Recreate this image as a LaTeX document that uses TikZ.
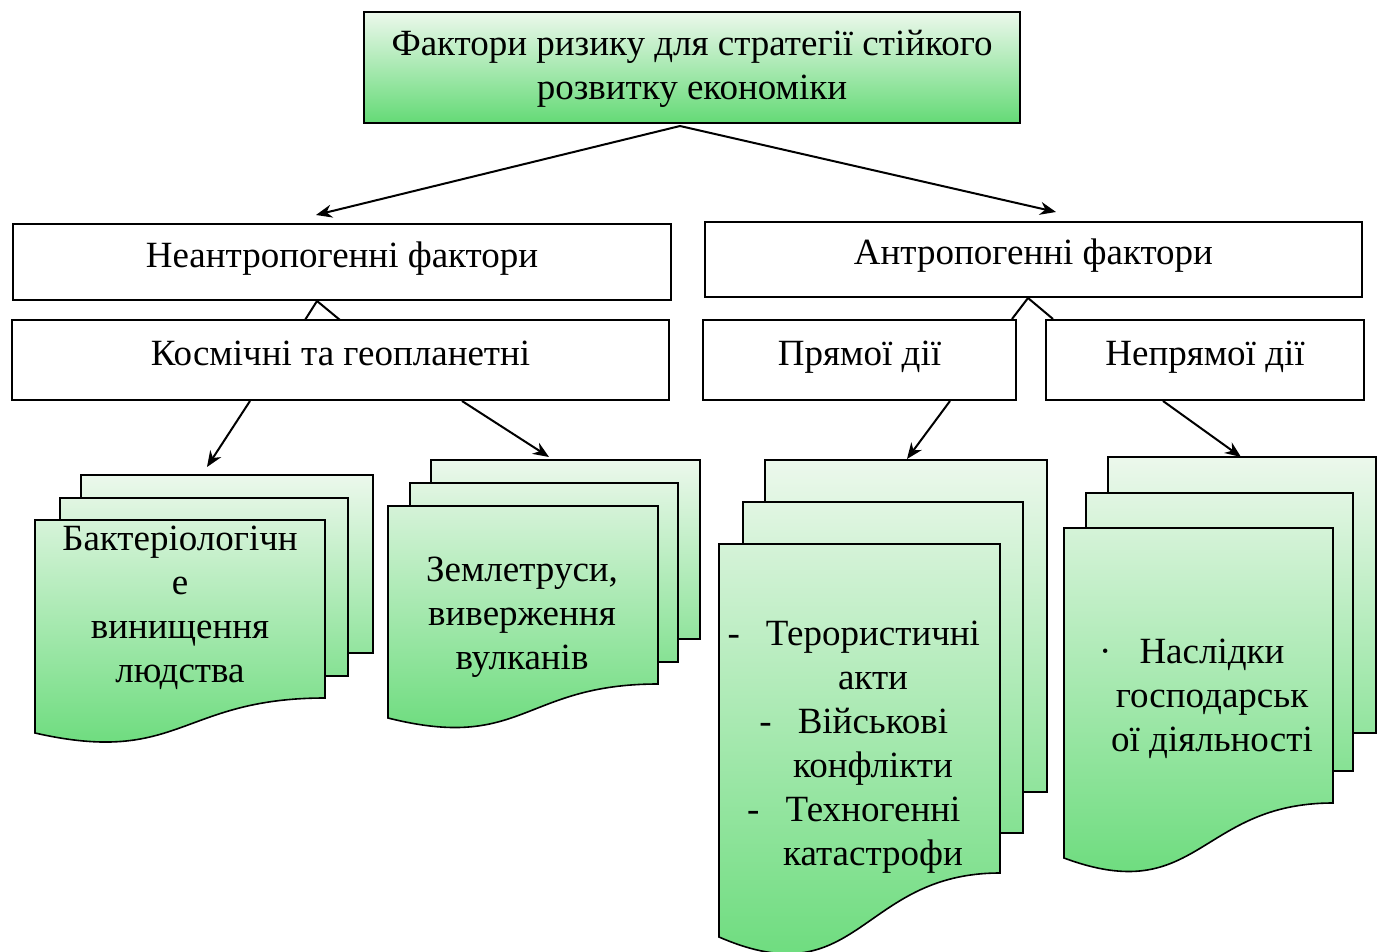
\documentclass[tikz,border=0pt]{standalone}
\usepackage{fontspec}
\setmainfont{Liberation Serif}
\usetikzlibrary{arrows.meta}
\definecolor{gtop}{RGB}{236,248,236}
\definecolor{gbot}{RGB}{100,218,118}

% one rectangular sheet of a stack, shaded as part of the whole stack
\newcommand\stacksheet[6]{%
  \pgfmathtruncatemacro\shA{(#2-#5)/(#6-#5)*100}%
  \pgfmathtruncatemacro\shB{(#4-#5)/(#6-#5)*100}%
  \shade[sheet, top color=gbot!\shA!gtop, bottom color=gbot!\shB!gtop] (#1,#2) rectangle (#3,#4);}
% front sheet with a wavy lower edge: x1, x2, top, right bottom, left bottom, control, stack top, stack bottom
\newcommand\frontsheet[8]{%
  \pgfmathtruncatemacro\shA{(#3-#7)/(#8-#7)*100}%
  \pgfmathsetmacro\shM{(#1+#2)/2}%
  \shade[sheet, top color=gbot!\shA!gtop, bottom color=gbot]
    (#1,#3) -- (#2,#3) -- (#2,#4) .. controls (\shM,#4) and (\shM,#6) .. (#1,#5) -- cycle;}

\begin{document}
\begin{tikzpicture}[x=1pt, y=-1pt,
  box/.style={draw=black, line width=1.8pt, fill=white, inner sep=0pt,
    font=\fontsize{37}{44}\selectfont, text height=26pt, text depth=16pt},
  sheet/.style={draw=black, line width=1.6pt},
  txt/.style={align=center, inner sep=0pt, font=\fontsize{37}{44}\selectfont},
  link/.style={line width=2pt, -{Stealth[length=16pt, width=13pt]}},
  tie/.style={line width=2pt}]
\useasboundingbox (0,0) rectangle (1383,952);

% title
\node[draw=black, line width=1.8pt, top color=gtop, bottom color=gbot, inner sep=0pt,
  minimum width=656pt, minimum height=111pt, align=center,
  font=\fontsize{37}{44}\selectfont] (title) at (692,67.5)
  {\rule{0pt}{28pt}Фактори ризику для стратегії стійкого\\розвитку економіки};

% second level
\node[box, minimum width=658pt, minimum height=76pt] (nonanthro) at (342,262) {Неантропогенні фактори};
\node[box, minimum width=657pt, minimum height=80pt] (cosmic) at (340.5,360) {Космічні та геопланетні};
\node[box, minimum width=657pt, minimum height=75pt] (anthro) at (1033.5,259.5) {Антропогенні фактори};
\node[box, minimum width=313pt, minimum height=80pt] (direct) at (859.5,360) {Прямої дії};
\node[box, minimum width=318pt, minimum height=80pt] (indirect) at (1205,360) {Непрямої дії};

% sheet stacks
\stacksheet{81}{475}{373}{653}{475}{742}
\stacksheet{60}{498}{348}{676}{475}{742}
\frontsheet{35}{325}{520}{698}{733}{766}{475}{742}

\stacksheet{431}{460}{700}{639}{460}{727}
\stacksheet{410}{483}{678}{662}{460}{727}
\frontsheet{388}{658}{506}{684}{718}{752}{460}{727}

\stacksheet{765}{460}{1047}{792}{460}{948}
\stacksheet{743}{502}{1023}{833}{460}{948}
\frontsheet{719}{1000}{544}{873}{937}{998}{460}{948}

\stacksheet{1108}{457}{1376}{733}{457}{873}
\stacksheet{1086}{493}{1353}{771}{457}{873}
\frontsheet{1064}{1333}{528}{803}{858}{908}{457}{873}

\node[txt] (bio) at (180,608) {Бактеріологічн\\е\\винищення\\людства};
\node[txt] (quake) at (522,617) {Землетруси,\\виверження\\вулканів};
\node[txt] (war) at (873,747) {\llap{-\hspace{26pt}}Терористичні\\акти\\\llap{-\hspace{26pt}}Військові\\конфлікти\\\llap{-\hspace{26pt}}Техногенні\\катастрофи};
\node[txt] (econ) at (1212,699) {\llap{·\hspace{28pt}}Наслідки\\господарськ\\ої діяльності};

% connector ends
\coordinate (t0) at (680,126);
\coordinate (t1) at (316,215);
\coordinate (t2) at (1056,212);
\coordinate (c1) at (250,401);
\coordinate (c1e) at (207,467);
\coordinate (c2) at (462,401);
\coordinate (c2e) at (549,457);
\coordinate (d1) at (950,401);
\coordinate (d1e) at (907,459);
\coordinate (i1) at (1163,401);
\coordinate (i1e) at (1241,457);
\coordinate (n0) at (317,301);
\coordinate (n1) at (305,320);
\coordinate (n2) at (340,320);
\coordinate (a0) at (1028,298);
\coordinate (a1) at (1012,319);
\coordinate (a2) at (1053,319);

\draw[link] (t0) -- (t1);
\draw[link] (t0) -- (t2);
\draw[link] (c1) -- (c1e);
\draw[link] (c2) -- (c2e);
\draw[link] (d1) -- (d1e);
\draw[link] (i1) -- (i1e);
\draw[tie] (n1) -- (n0) -- (n2);
\draw[tie] (a1) -- (a0) -- (a2);
\end{tikzpicture}
\end{document}
